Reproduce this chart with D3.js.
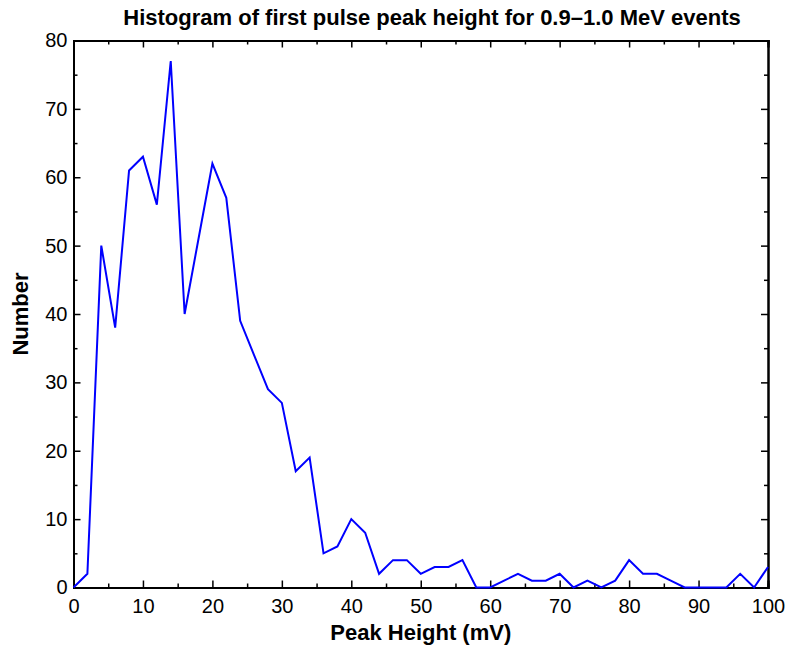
<!DOCTYPE html>
<html>
<head>
<meta charset="utf-8">
<script src="https://cdn.jsdelivr.net/npm/d3@7"></script>
<style>
  body { margin: 0; background: #fff; }
  text { font-family: "Liberation Sans", Arial, sans-serif; fill: #000; }
</style>
</head>
<body>
<div id="chart"></div>
<script>
var binCenters = d3.range(0, 101, 2);
var counts = [0, 2, 50, 38, 61, 63, 56, 77, 40, 51, 62, 57, 39, 34, 29, 27, 17, 19, 5, 6,
              10, 8, 2, 4, 4, 2, 3, 3, 4, 0, 0, 1, 2, 1, 1, 2, 0, 1, 0, 1,
              4, 2, 2, 1, 0, 0, 0, 0, 2, 0, 3];
var xTicks = [0, 10, 20, 30, 40, 50, 60, 70, 80, 90, 100];
var yTicks = [0, 10, 20, 30, 40, 50, 60, 70, 80];

var width = 790, height = 648;
var margin = {top: 40.5, right: 22, bottom: 60.5, left: 73.5};

var svg = d3.select('#chart').append('svg')
    .attr('width', width)
    .attr('height', height);

var x = d3.scaleLinear()
    .domain([0, 100])
    .range([margin.left, width - margin.right]);

var y = d3.scaleLinear()
    .domain([0, 80])
    .range([height - margin.bottom, margin.top]);

var minorX = d3.range(0, 101, 5).filter(function(d) { return d % 10 != 0; });
var minorY = d3.range(0, 81, 5).filter(function(d) { return d % 10 != 0; });

// axes, ticks point inward on every side
svg.append('g')
    .attr('transform', 'translate(0,' + y(0) + ')')
    .call(d3.axisBottom(x).tickValues(xTicks).tickSize(-7).tickPadding(11));
svg.append('g')
    .attr('transform', 'translate(0,' + y(0) + ')')
    .call(d3.axisBottom(x).tickValues(minorX).tickSize(-4).tickFormat(''));
svg.append('g')
    .attr('transform', 'translate(0,' + y(80) + ')')
    .call(d3.axisTop(x).tickValues(xTicks).tickSize(-7).tickFormat(''));
svg.append('g')
    .attr('transform', 'translate(0,' + y(80) + ')')
    .call(d3.axisTop(x).tickValues(minorX).tickSize(-4).tickFormat(''));

svg.append('g')
    .attr('transform', 'translate(' + x(0) + ',0)')
    .call(d3.axisLeft(y).tickValues(yTicks).tickSize(-7).tickPadding(6));
svg.append('g')
    .attr('transform', 'translate(' + x(0) + ',0)')
    .call(d3.axisLeft(y).tickValues(minorY).tickSize(-4).tickFormat(''));
svg.append('g')
    .attr('transform', 'translate(' + x(100) + ',0)')
    .call(d3.axisRight(y).tickValues(yTicks).tickSize(-7).tickFormat(''));
svg.append('g')
    .attr('transform', 'translate(' + x(100) + ',0)')
    .call(d3.axisRight(y).tickValues(minorY).tickSize(-4).tickFormat(''));

svg.selectAll('.domain').attr('stroke', '#000').attr('stroke-width', 2);
svg.selectAll('.tick line').attr('stroke', '#000').attr('stroke-width', 1.5);
svg.selectAll('.tick text').style('font-size', '20px').attr('fill', '#000');

var line = d3.line()
    .x(function(d, i) { return x(binCenters[i]); })
    .y(function(d) { return y(d); });

svg.append('path')
    .datum(counts)
    .attr('fill', 'none')
    .attr('stroke', '#0000ff')
    .attr('stroke-width', 2)
    .attr('d', line);

svg.append('text')
    .attr('x', 432)
    .attr('y', 25)
    .attr('text-anchor', 'middle')
    .style('font-size', '22px')
    .style('font-weight', 'bold')
    .text('Histogram of first pulse peak height for 0.9\u20131.0 MeV events');

svg.append('text')
    .attr('x', (x(0) + x(100)) / 2)
    .attr('y', 640)
    .attr('text-anchor', 'middle')
    .style('font-size', '22px')
    .style('font-weight', 'bold')
    .text('Peak Height (mV)');

svg.append('text')
    .attr('transform', 'translate(28,' + (y(0) + y(80)) / 2 + ') rotate(-90)')
    .attr('text-anchor', 'middle')
    .style('font-size', '22px')
    .style('font-weight', 'bold')
    .text('Number');
</script>
</body>
</html>
